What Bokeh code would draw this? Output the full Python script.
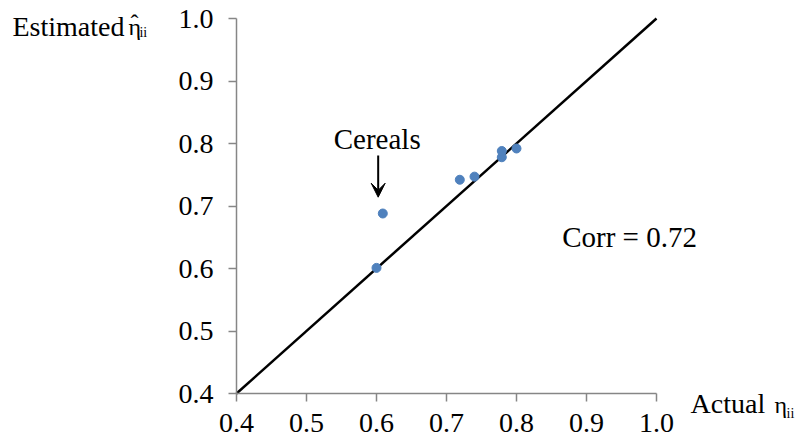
from bokeh.plotting import figure
from bokeh.models import Label, Arrow, VeeHead, Range1d, FixedTicker, NumeralTickFormatter, LinearAxis
from bokeh.embed import file_html
from bokeh.resources import INLINE

actual = [0.60, 0.609, 0.719, 0.740, 0.779, 0.779, 0.800]
estimated = [0.601, 0.688, 0.742, 0.747, 0.778, 0.788, 0.792]
diag = [0.4, 1.0]
ticks = [0.4, 0.5, 0.6, 0.7, 0.8, 0.9, 1.0]

FONT = "Liberation Serif"
W, H = 806, 442
FL, FB = 236, 393          # where data 0.4 sits on the canvas (pixels)
SX, SY = 700.0, 625.0      # pixels per data unit

p = figure(width=W, height=H, output_backend="svg", toolbar_location=None,
           x_axis_location=None, y_axis_location=None,
           x_range=Range1d(0.4 - FL / SX, 0.4 + (W - FL) / SX),
           y_range=Range1d(0.4 - (H - FB) / SY, 0.4 + FB / SY),
           min_border_left=0, min_border_right=0, min_border_top=0, min_border_bottom=0)
p.outline_line_color = None
p.background_fill_color = "white"
p.grid.visible = False

xax = LinearAxis(fixed_location=0.4, bounds=(0.4, 1.0))
yax = LinearAxis(fixed_location=0.4, bounds=(0.4, 1.0))
for ax in (xax, yax):
    ax.ticker = FixedTicker(ticks=ticks)
    ax.formatter = NumeralTickFormatter(format="0.0")
    ax.minor_tick_line_color = None
    ax.axis_line_color = "#868686"
    ax.axis_line_width = 1.5
    ax.major_tick_line_color = "#868686"
    ax.major_tick_line_width = 1.5
    ax.major_tick_in = 0
    ax.major_tick_out = 8
    ax.major_label_text_font = FONT
    ax.major_label_text_font_size = "28px"
    ax.major_label_text_color = "black"
xax.major_label_standoff = 12
yax.major_label_standoff = 15
p.add_layout(xax, "below")
p.add_layout(yax, "left")

p.line(diag, diag, line_color="black", line_width=2.5)
p.scatter(actual, estimated, size=9, fill_color="#4F81BD", line_color="#4F81BD")

def lab(x, y, t, size, align="left", baseline="alphabetic"):
    p.add_layout(Label(x=x, y=y, text=t, text_font=FONT, text_font_size=size,
                       text_align=align, text_baseline=baseline, text_color="black"))

lab(0.0800, 0.9872, "Estimated", "28px")
lab(0.2457, 0.9872, "\u03b7", "24px")
lab(0.2543, 0.9936, "\u02c6", "24px", align="center")
lab(0.2614, 0.9776, "ii", "14px")

lab(1.0486, 0.3835, "Actual", "28px")
lab(1.1686, 0.3824, "\u03b7", "24px")
lab(1.1857, 0.3680, "ii", "14px")

lab(0.601, 0.808, "Cereals", "29px", align="center", baseline="middle")
lab(0.8653, 0.6501, "Corr = 0.72", "29px")

p.add_layout(Arrow(x_start=0.6024, y_start=0.7808, x_end=0.6024, y_end=0.7141,
                   line_color="black", line_width=2,
                   end=VeeHead(size=14, fill_color="black", line_color="black")))

open("out.html", "w").write(file_html(p, INLINE))
